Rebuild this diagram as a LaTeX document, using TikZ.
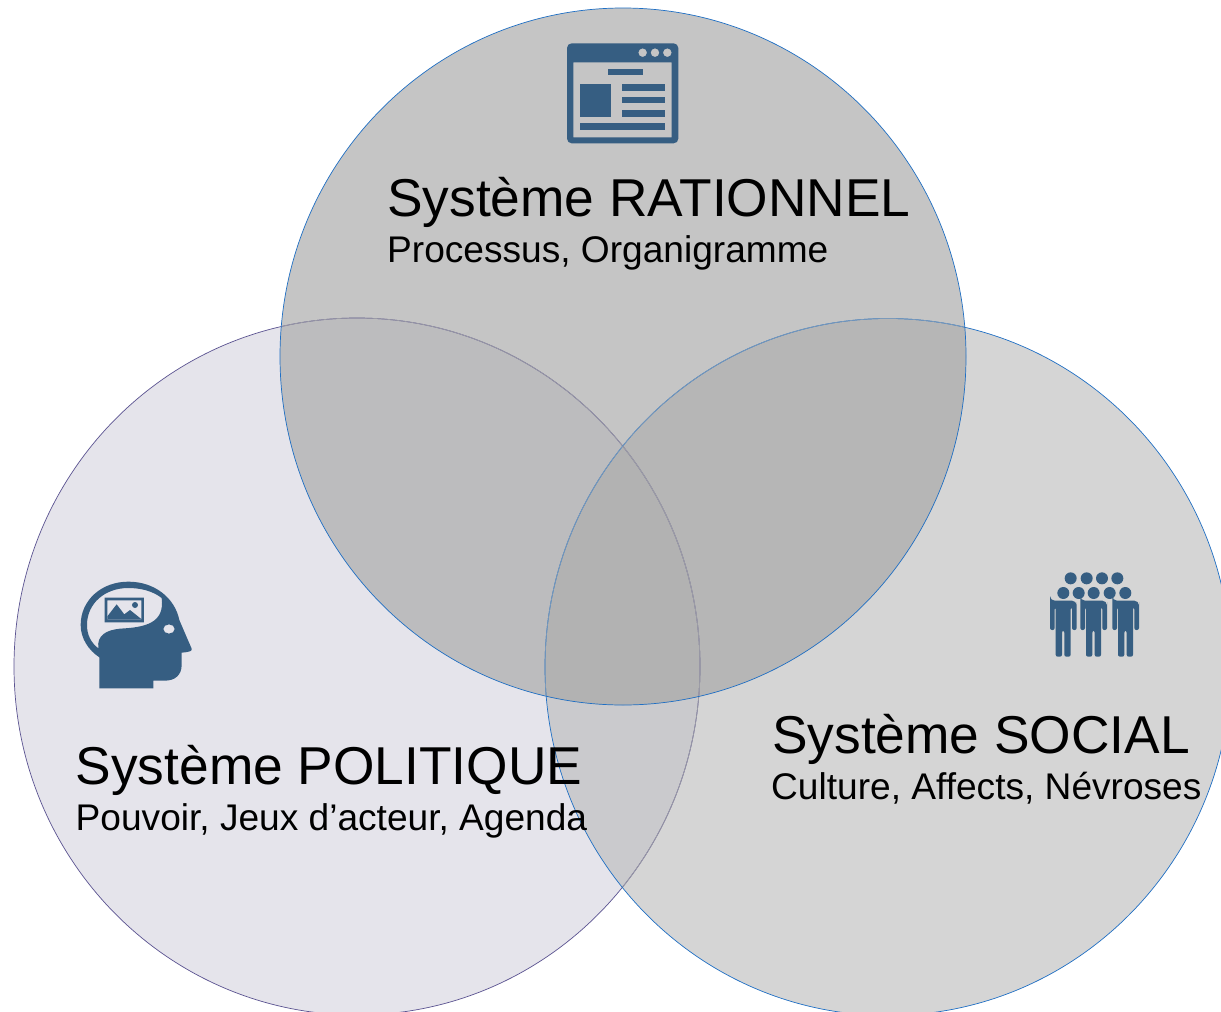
\documentclass[tikz,border=0pt]{standalone}
\usepackage{fontspec}
\setmainfont{Liberation Sans}
\definecolor{iconblue}{HTML}{365E82}
\definecolor{leftfill}{HTML}{E5E4EB}
\definecolor{rightfillc}{HTML}{D5D5D5}
\definecolor{topfillc}{HTML}{C5C5C5}
\definecolor{lrfill}{HTML}{CACACD}
\definecolor{ltfill}{HTML}{BCBCBE}
\definecolor{rtfill}{HTML}{B6B6B6}
\definecolor{allfill}{HTML}{B2B2B2}
\definecolor{leftline}{HTML}{5B5391}
\definecolor{leftfaded}{HTML}{9C9CA6}
\definecolor{blueline}{HTML}{1F6FC4}
\definecolor{bluefaded}{HTML}{7C9ABA}
\newcommand{\leftshape}{(357,666.5) ellipse [x radius=343pt,y radius=348.5pt]}
\newcommand{\rightshape}{(888,667) ellipse [x radius=343pt,y radius=348.5pt]}
\newcommand{\topshape}{(623,356.5) ellipse [x radius=343pt,y radius=348.5pt]}
\tikzset{
  setcircle/.style={line width=0.7pt},
  title/.style={anchor=base west,inner sep=0pt,font=\fontsize{53.3}{60}\selectfont,text=black},
  subtitle/.style={anchor=base west,inner sep=0pt,font=\fontsize{37.1}{42}\selectfont,text=black},
  icon/.style={fill=iconblue,even odd rule},
  zoomed/.style={x=0.3333pt,y=-0.3333pt},
}
\begin{document}
\begin{tikzpicture}[x=1pt,y=-1pt]
\useasboundingbox (0,0) rectangle (1221,1012);
\fill[white] (0,0) rectangle (1221,1012);
\begin{scope}
\clip (0,0) rectangle (1221,1012);
% regions
\fill[leftfill] \leftshape;
\fill[rightfillc] \rightshape;
\fill[topfillc] \topshape;
\begin{scope}\clip \leftshape; \fill[lrfill] \rightshape;\end{scope}
\begin{scope}\clip \leftshape; \fill[ltfill] \topshape;\end{scope}
\begin{scope}\clip \rightshape; \fill[rtfill] \topshape;\end{scope}
\begin{scope}\clip \leftshape; \clip \rightshape; \fill[allfill] \topshape;\end{scope}
% outlines
\draw[setcircle,leftline] \leftshape;
\begin{scope}\clip \rightshape; \draw[setcircle,leftfaded] \leftshape;\end{scope}
\begin{scope}\clip \topshape; \draw[setcircle,leftfaded] \leftshape;\end{scope}
\draw[setcircle,blueline] \rightshape;
\begin{scope}\clip \topshape; \draw[setcircle,bluefaded] \rightshape;\end{scope}
\draw[setcircle,blueline] \topshape;
\end{scope}

% window icon
\begin{scope}[shift={(550pt,-30pt)},zoomed]
\fill[icon] [rounded corners=14*0.3333pt] (51,40) rectangle (385,340)
  [sharp corners]
  (70,97) rectangle (365,322)
  (278,68) circle [radius=13*0.3333pt]
  (315,68) circle [radius=13*0.3333pt]
  (352,68) circle [radius=13*0.3333pt];
\fill[iconblue] (174,117) rectangle (278,136);
\fill[iconblue] (89,162) rectangle (182,260);
\fill[iconblue] (215,162) rectangle (345,182);
\fill[iconblue] (215,201) rectangle (345,220);
\fill[iconblue] (215,241) rectangle (345,261);
\fill[iconblue] (89,280) rectangle (345,300);
\end{scope}

% head icon
\begin{scope}[shift={(65pt,-570pt)},zoomed]
\fill[icon]
  (103,355) -- (103,262)
  .. controls (70,240) and (47,205) .. (47,165)
  .. controls (47,90) and (110,35) .. (190,35)
  .. controls (270,35) and (330,85) .. (343,150)
  -- (380,236) .. controls (382,243) and (375,246) .. (350,248)
  -- (350,285) .. controls (350,315) and (330,332) .. (300,332)
  -- (265,332) -- (265,355) -- cycle
  (100,235)
  .. controls (95,195) and (125,180) .. (165,176)
  .. controls (240,172) and (300,160) .. (290,84)
  .. controls (262,62) and (225,54) .. (190,54)
  .. controls (120,54) and (66,100) .. (66,165)
  .. controls (66,195) and (78,218) .. (100,235) -- cycle
  (312,177) ellipse [x radius=17*0.3333pt,y radius=14*0.3333pt];
\fill[icon]
  (119,83) rectangle (237,157)
  (127,91) -- (229,91) -- (229,148) -- (127,148) -- cycle;
\fill[iconblue] (127,139) -- (155,103) -- (178,133) -- (195,120) -- (229,147) -- (229,148) -- (127,148) -- cycle;
\fill[iconblue] (210,105) circle [radius=9*0.3333pt];
\end{scope}

% people icon
\begin{scope}[shift={(1035pt,-560pt)},zoomed]
\foreach \hx in {107,155,201,247}{\fill[iconblue] (\hx,55) circle [radius=18*0.3333pt];}
\foreach \hx in {85,131,176,224,271}{\fill[iconblue] (\hx,99) circle [radius=18*0.3333pt];}
\foreach \cx in {85,176,272}{
\fill[iconblue,rounded corners=6*0.3333pt,xshift=\cx*0.3333pt]
  (-40,210) -- (-40,122) [rounded corners=14*0.3333pt] -- (-40,122) -- (40,122) -- (40,140)
  [rounded corners=6*0.3333pt] -- (40,210) -- (26,210) -- (26,142) -- (22,142) -- (22,290) -- (3,290) -- (3,212) -- (-4,212) -- (-4,290) -- (-23,290) -- (-23,142) -- (-26,142) -- (-26,210) -- cycle;
}
\end{scope}

\node[title] (rattitle) at (387,216.5) {Système RATIONNEL};
\node[subtitle] (ratsub) at (387,262) {Processus, Organigramme};
\node[title] (poltitle) at (75.5,784.5) {Système POLITIQUE};
\node[subtitle] (polsub) at (75.5,830) {Pouvoir, Jeux d’acteur, Agenda};
\node[title] (soctitle) at (772,753.5) {Système SOCIAL};
\node[subtitle] (socsub) at (771,799) {Culture, Affects, Névroses};
\end{tikzpicture}
\end{document}
